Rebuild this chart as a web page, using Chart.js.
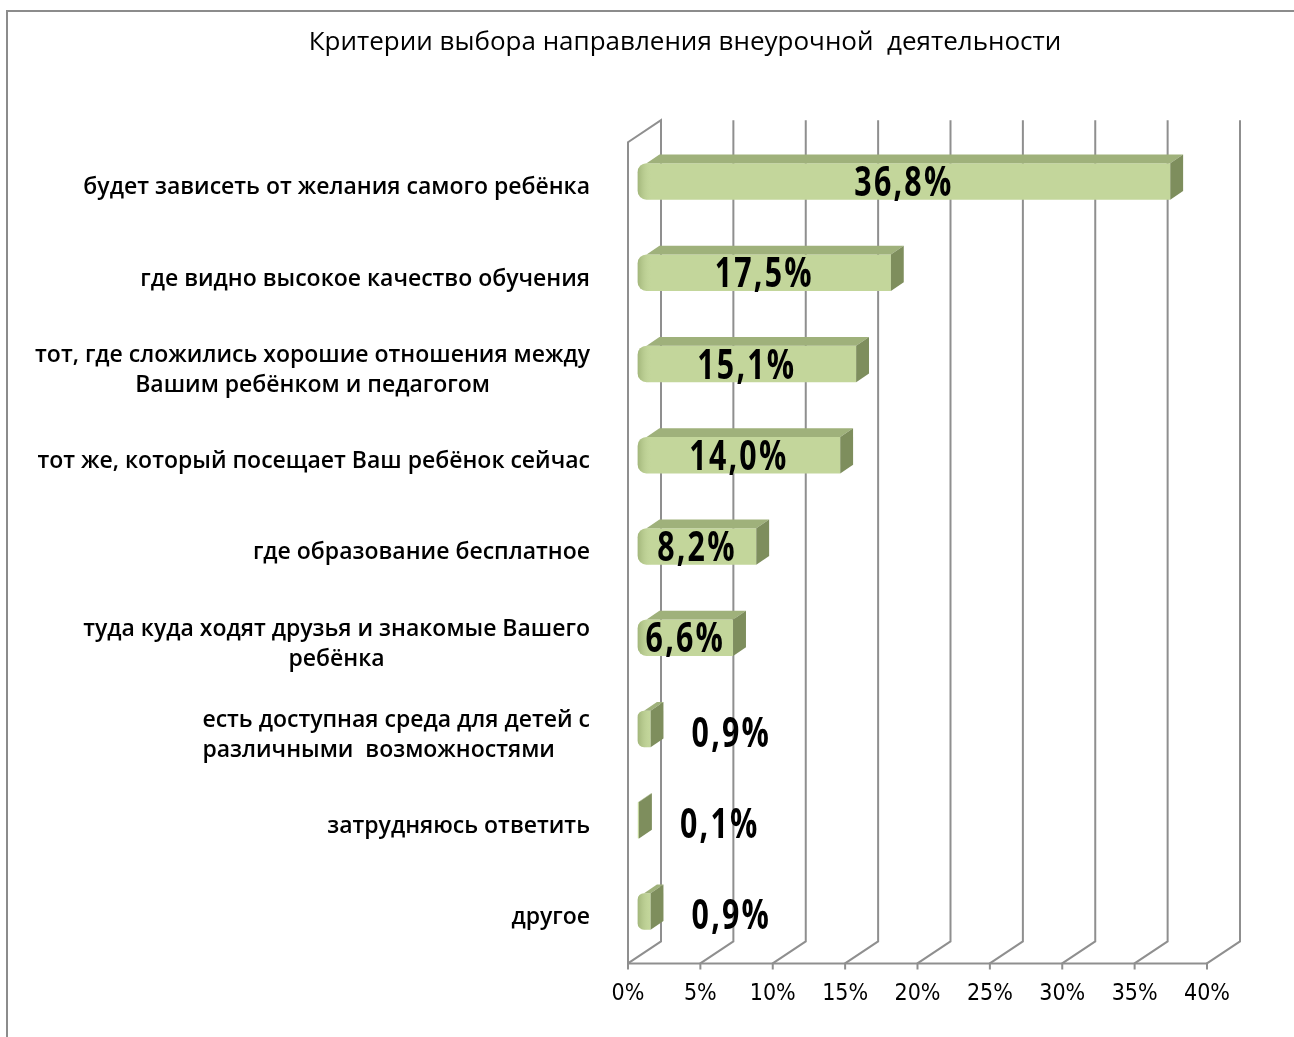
<!DOCTYPE html>
<html><head><meta charset="utf-8">
<script src="https://cdn.jsdelivr.net/npm/chart.js@4.4.1/dist/chart.umd.min.js"></script>
<style>
html,body{margin:0;padding:0;width:1294px;height:1037px;overflow:hidden;background:#fff;}
#frame{position:absolute;left:6px;top:10px;width:1400px;height:1200px;border:2px solid #8c8c8c;box-sizing:border-box;}
#wrap{position:absolute;left:0;top:0;width:1294px;height:1037px;}
</style></head><body>
<div id="frame"></div>
<div id="wrap"><canvas id="c" width="1294" height="1037"></canvas></div>
<script>
const chartTitle = 'Критерии выбора направления внеурочной  деятельности';
const categories = [
  ['будет зависеть от желания самого ребёнка'],
  ['где видно высокое качество обучения'],
  ['тот, где сложились хорошие отношения между', 'Вашим ребёнком и педагогом'],
  ['тот же, который посещает Ваш ребёнок сейчас'],
  ['где образование бесплатное'],
  ['туда куда ходят друзья и знакомые Вашего', 'ребёнка'],
  ['есть доступная среда для детей с', 'различными  возможностями'],
  ['затрудняюсь ответить'],
  ['другое']
];
const values = [36.8, 17.5, 15.1, 14.0, 8.2, 6.6, 0.9, 0.1, 0.9];
const axisMin = 0, axisMax = 40, axisStep = 5;

const fmt = v => v.toFixed(1).replace('.', ',') + '%';

// 3D styling
const DX = 33, DY = -22, F1 = 0.29, F2 = 0.68;
const WALL = '#8f8f8f';
const FRONT = '#C3D69B', TOP = '#9FB17B', SIDE = '#7E8E5D';
const secondLineAlign = ['center','center','center','center','center','center','left','center','center'];

function narrowText(ctx, text, x, y, align, sx) {
  ctx.save();
  ctx.translate(x, y);
  ctx.scale(sx, 1);
  ctx.textAlign = align;
  if ('letterSpacing' in ctx) ctx.letterSpacing = '3px';
  ctx.fillText(text, 0, 0);
  ctx.restore();
}

const threeD = {
  id: 'threeD',
  beforeDatasetsDraw(chart) {
    const {ctx, chartArea: a, scales: {x}} = chart;
    ctx.save();
    ctx.strokeStyle = WALL; ctx.lineWidth = 2; ctx.lineJoin = 'miter';
    ctx.beginPath();
    ctx.moveTo(a.left, a.bottom); ctx.lineTo(a.left, a.top);
    ctx.lineTo(a.left + DX, a.top + DY); ctx.lineTo(a.left + DX, a.bottom + DY);
    ctx.stroke();
    x.ticks.forEach(t => {
      const xf = x.getPixelForValue(t.value);
      ctx.beginPath();
      ctx.moveTo(xf + DX, a.top + DY);
      ctx.lineTo(xf + DX, a.bottom + DY);
      ctx.lineTo(xf, a.bottom);
      ctx.lineTo(xf, a.bottom + 6);
      ctx.stroke();
    });
    ctx.beginPath(); ctx.moveTo(a.left, a.bottom); ctx.lineTo(a.right, a.bottom); ctx.stroke();
    ctx.restore();
  },
  beforeDatasetDraw(chart) {
    chart.ctx.save();
    chart.ctx.translate(DX * F1, DY * F1);
  },
  afterDatasetDraw(chart, args) {
    const ctx = chart.ctx;
    const ddx = DX * (F2 - F1), ddy = DY * (F2 - F1);
    args.meta.data.forEach(el => {
      const {x, y, base, height} = el.getProps(['x', 'y', 'base', 'height'], true);
      const top = y - height / 2, bot = y + height / 2;
      const w = x - base;
      const r = Math.min(9, w / 2);
      if (w > 2) {
        const g = ctx.createLinearGradient(base, 0, base + 14, 0);
        g.addColorStop(0, 'rgba(120,140,80,0.45)');
        g.addColorStop(1, 'rgba(195,214,155,0)');
        ctx.fillStyle = g;
        ctx.beginPath();
        ctx.roundRect(base, top, Math.min(14, w), height, [r, 0, 0, r]);
        ctx.fill();
      }
      ctx.fillStyle = TOP;
      ctx.beginPath();
      ctx.moveTo(base + r, top); ctx.lineTo(x, top);
      ctx.lineTo(x + ddx, top + ddy); ctx.lineTo(base + r + ddx, top + ddy);
      ctx.closePath(); ctx.fill();
      ctx.fillStyle = SIDE;
      ctx.beginPath();
      ctx.moveTo(x, top); ctx.lineTo(x + ddx, top + ddy);
      ctx.lineTo(x + ddx, bot + ddy); ctx.lineTo(x, bot);
      ctx.closePath(); ctx.fill();
    });
    ctx.restore();
  },
  afterDatasetsDraw(chart) {
    const {ctx, chartArea: a, scales: {y}} = chart;
    const meta = chart.getDatasetMeta(0);
    ctx.save();
    ctx.fillStyle = '#000';
    ctx.font = "bold 41px 'Open Sans', sans-serif";
    ctx.textBaseline = 'middle';
    meta.data.forEach((el, i) => {
      const {x, y: yc, base} = el.getProps(['x', 'y', 'base'], true);
      const fx = x + DX * F1, fb = base + DX * F1, fy = yc + DY * F1;
      if (values[i] >= 2) {
        narrowText(ctx, fmt(values[i]), (fx + fb) / 2, fy + 3, 'center', 0.74);
      } else {
        narrowText(ctx, fmt(values[i]), fx + 41, fy + 6, 'left', 0.74);
      }
    });
    ctx.font = "600 23px 'Open Sans', sans-serif";
    const anchor = a.left - 38, lh = 30;
    categories.forEach((lines, i) => {
      const yc = y.getPixelForValue(i);
      const y0 = yc - (lines.length - 1) * lh / 2;
      const w0 = ctx.measureText(lines[0]).width;
      ctx.textAlign = 'right';
      ctx.fillText(lines[0], anchor, y0);
      for (let k = 1; k < lines.length; k++) {
        if (secondLineAlign[i] === 'left') {
          ctx.textAlign = 'left';
          ctx.fillText(lines[k], anchor - w0, y0 + k * lh);
        } else {
          ctx.textAlign = 'center';
          ctx.fillText(lines[k], anchor - w0 / 2, y0 + k * lh);
        }
      }
    });
    ctx.restore();
  }
};

new Chart(document.getElementById('c'), {
  type: 'bar',
  data: {
    labels: categories.map(c => c.join(' ')),
    datasets: [{
      data: values,
      backgroundColor: FRONT,
      borderWidth: 0,
      borderSkipped: false,
      borderRadius: {topLeft: 9, bottomLeft: 9, topRight: 0, bottomRight: 0},
      barPercentage: 0.4,
      categoryPercentage: 1
    }]
  },
  options: {
    indexAxis: 'y',
    responsive: false,
    animation: false,
    devicePixelRatio: 1,
    layout: {padding: {left: 163, right: 87, top: 0, bottom: 12}},
    plugins: {
      legend: {display: false},
      tooltip: {enabled: false},
      title: {
        display: true, text: chartTitle, color: '#000',
        font: {family: "'Open Sans', sans-serif", size: 26, weight: 500},
        padding: {top: 27, bottom: 84}
      }
    },
    scales: {
      x: {
        min: axisMin, max: axisMax,
        ticks: {stepSize: axisStep, callback: v => v + '%', color: '#000',
          font: {family: "'DejaVu Sans Condensed', sans-serif", size: 23},
          padding: 17, maxRotation: 0, autoSkip: false},
        grid: {display: false, drawTicks: false},
        border: {display: false}
      },
      y: {
        ticks: {display: false},
        grid: {display: false, drawTicks: false},
        border: {display: false},
        afterFit(s) { s.width = 465; }
      }
    }
  },
  plugins: [threeD]
});
</script>
</body></html>
